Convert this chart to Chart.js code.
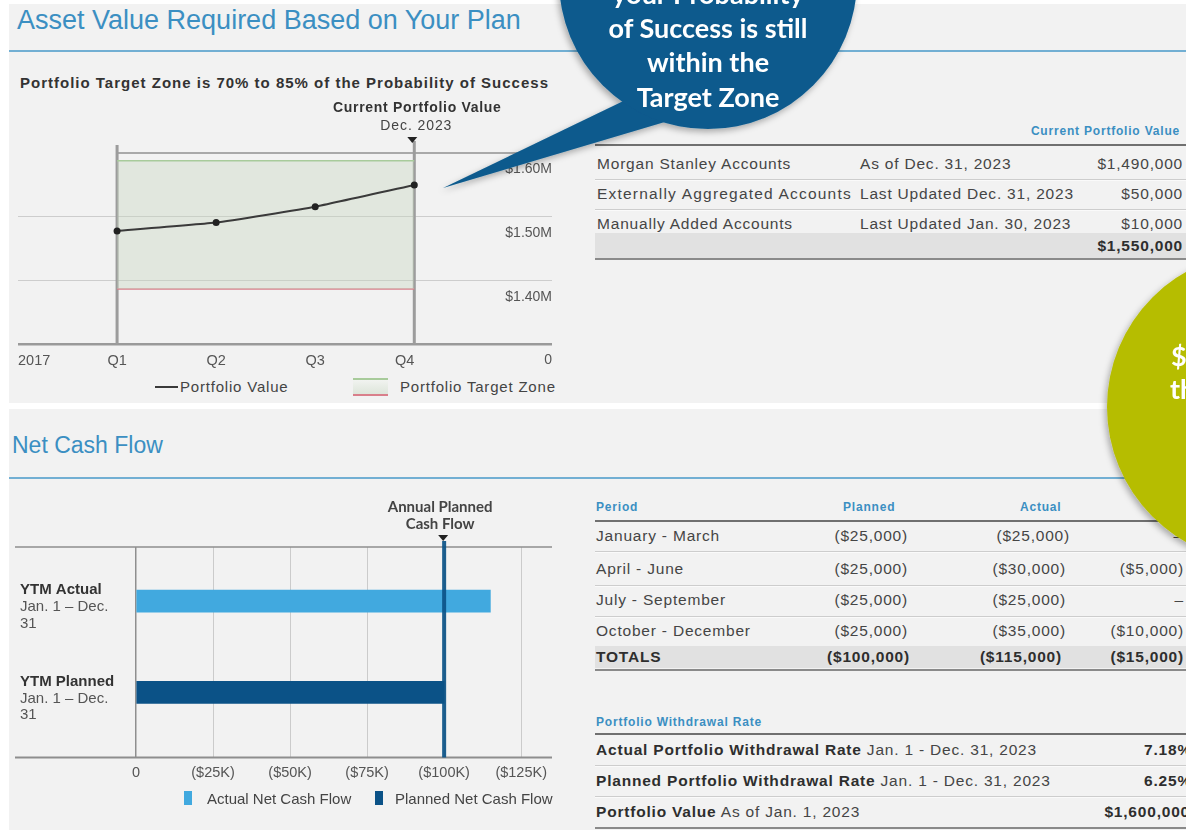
<!DOCTYPE html>
<html>
<head>
<meta charset="utf-8">
<script src="https://cdn.jsdelivr.net/npm/chart.js@4.4.1/dist/chart.umd.min.js"></script>
<style>
  body { margin: 0; width: 1186px; height: 830px; position: relative; overflow: hidden; background: #fff;
         font-family: "Liberation Sans", Arial, sans-serif; color: #444; }
  .panel { position: absolute; left: 9px; right: 0; background: #f2f2f2; }
  .abs { position: absolute; white-space: nowrap; }
  .h { color: #3b8fc2; }
  .rule { position: absolute; left: 9px; right: 0; height: 2px; background: #72afd3; }
  .t { position: absolute; white-space: nowrap; font-size: 15.5px; letter-spacing: 0.8px; line-height: 18px; color: #454545; }
  .b { font-weight: bold; color: #2e2e2e; }
  .cap { position: absolute; white-space: nowrap; font-size: 12px; letter-spacing: 0.8px; line-height: 13px; color: #3b8fc2; font-weight: bold; }
  .line { position: absolute; height: 1px; background: #cdcdcd; border-bottom: 1px solid #fafafa; }
  .border { position: absolute; height: 2px; background: #707070; }
  .totalbg { position: absolute; background: #e1e1e1; }
  canvas { position: absolute; }
  .legend { position: absolute; font-size: 15px; line-height: 18px; color: #444; white-space: nowrap; }
  .legend span { position: absolute; }
</style>
</head>
<body>
<div class="panel" style="top:4px;height:399px"></div>
<div class="panel" style="top:409px;height:421px"></div>

<!-- section 1 -->
<div class="abs h" style="left:17px;top:5px;font-size:27px;line-height:30px">Asset Value Required Based on Your Plan</div>
<div class="rule" style="top:50px"></div>
<div class="abs b" style="left:20px;top:74px;font-size:15px;letter-spacing:1px;line-height:18px;color:#333">Portfolio Target Zone is 70% to 85% of the Probability of Success</div>

<canvas id="valueChart" width="560" height="277" style="left:10px;top:95px"></canvas>
<div id="valueLegend" class="legend" style="left:0;top:378px;width:570px;height:20px"></div>

<div class="cap" style="right:6px;top:125px">Current Portfolio Value</div>
<div class="border" style="left:595px;right:0;top:144px"></div>
<div class="t" style="left:597px;top:155px">Morgan Stanley Accounts</div>
<div class="t" style="left:860px;top:155px">As of Dec. 31, 2023</div>
<div class="t" style="right:3px;top:155px">$1,490,000</div>
<div class="line" style="left:595px;right:0;top:179px"></div>
<div class="t" style="left:597px;top:185px;letter-spacing:1.2px">Externally Aggregated Accounts</div>
<div class="t" style="left:860px;top:185px">Last Updated Dec. 31, 2023</div>
<div class="t" style="right:3px;top:185px">$50,000</div>
<div class="line" style="left:595px;right:0;top:209px"></div>
<div class="t" style="left:597px;top:215px">Manually Added Accounts</div>
<div class="t" style="left:860px;top:215px">Last Updated Jan. 30, 2023</div>
<div class="t" style="right:3px;top:215px">$10,000</div>
<div class="totalbg" style="left:595px;right:0;top:233px;height:25px"></div>
<div class="t b" style="right:3px;top:237px">$1,550,000</div>
<div class="border" style="left:595px;right:0;top:258px;background:#8a8a8a"></div>

<!-- section 2 -->
<div class="abs h" style="left:12px;top:432px;font-size:23px;line-height:27px">Net Cash Flow</div>
<div class="rule" style="top:477px"></div>

<canvas id="cashChart" width="560" height="302" style="left:10px;top:490px"></canvas>
<div id="cashLegend" class="legend" style="left:0;top:790px;width:570px;height:20px"></div>

<div class="cap" style="left:596px;top:501px">Period</div>
<div class="cap" style="left:843px;top:501px">Planned</div>
<div class="cap" style="left:1020px;top:501px">Actual</div>
<div class="cap" style="left:1166px;top:501px">Change</div>
<div class="border" style="left:595px;right:0;top:520px"></div>
<div class="t" style="left:596px;top:527px">January - March</div>
<div class="t" style="right:278px;top:527px">($25,000)</div>
<div class="t" style="right:116px;top:527px">($25,000)</div>
<div class="t" style="right:3px;top:527px">–</div>
<div class="line" style="left:595px;right:0;top:551px"></div>
<div class="t" style="left:596px;top:560px">April - June</div>
<div class="t" style="right:278px;top:560px">($25,000)</div>
<div class="t" style="right:120px;top:560px">($30,000)</div>
<div class="t" style="right:2px;top:560px">($5,000)</div>
<div class="line" style="left:595px;right:0;top:585px"></div>
<div class="t" style="left:596px;top:591px">July - September</div>
<div class="t" style="right:278px;top:591px">($25,000)</div>
<div class="t" style="right:120px;top:591px">($25,000)</div>
<div class="t" style="right:2px;top:591px">–</div>
<div class="line" style="left:595px;right:0;top:616px"></div>
<div class="t" style="left:596px;top:622px">October - December</div>
<div class="t" style="right:278px;top:622px">($25,000)</div>
<div class="t" style="right:120px;top:622px">($35,000)</div>
<div class="t" style="right:2px;top:622px">($10,000)</div>
<div class="totalbg" style="left:595px;right:0;top:646px;height:22px"></div>
<div class="t b" style="left:596px;top:648px">TOTALS</div>
<div class="t b" style="right:276px;top:648px">($100,000)</div>
<div class="t b" style="right:124px;top:648px">($115,000)</div>
<div class="t b" style="right:2px;top:648px">($15,000)</div>
<div class="border" style="left:595px;right:0;top:669px;background:#8a8a8a"></div>

<div class="cap" style="left:596px;top:716px">Portfolio Withdrawal Rate</div>
<div class="border" style="left:595px;right:0;top:733px"></div>
<div class="t" style="left:596px;top:741px"><span class="b">Actual Portfolio Withdrawal Rate</span> Jan. 1 - Dec. 31, 2023</div>
<div class="t b" style="right:-6px;top:741px">7.18%</div>
<div class="line" style="left:595px;right:0;top:765px"></div>
<div class="t" style="left:596px;top:772px"><span class="b">Planned Portfolio Withdrawal Rate</span> Jan. 1 - Dec. 31, 2023</div>
<div class="t b" style="right:-6px;top:772px">6.25%</div>
<div class="line" style="left:595px;right:0;top:796px"></div>
<div class="t" style="left:596px;top:803px"><span class="b">Portfolio Value</span> As of Jan. 1, 2023</div>
<div class="t b" style="right:-4px;top:803px">$1,600,000</div>
<div class="border" style="left:595px;right:0;top:827px;background:#8a8a8a"></div>

<!-- callouts -->
<svg width="1186" height="830" style="position:absolute;left:0;top:0;pointer-events:none">
  <defs>
    <filter id="sh" x="-30%" y="-30%" width="160%" height="160%">
      <feDropShadow dx="-2" dy="3" stdDeviation="3" flood-color="#000" flood-opacity="0.3"/>
    </filter>
  </defs>
  <g filter="url(#sh)">
    <path d="M443,188 L640,93 L685,116 Z" fill="#0b5a8d"/>
    <circle cx="708" cy="-20" r="149" fill="#0b5a8d"/>
  </g>
  <g font-family="Lato, 'Open Sans', sans-serif" font-weight="700" font-size="27" fill="#fff" text-anchor="middle" dominant-baseline="central">
    <text x="708" y="-7">your Probability</text>
    <text x="708" y="27">of Success is still</text>
    <text x="708" y="61">within the</text>
    <text x="708" y="96">Target Zone</text>
  </g>
  <circle cx="1262" cy="407" r="155" fill="#b6bd00" filter="url(#sh)"/>
  <g font-family="Lato, 'Open Sans', sans-serif" font-weight="700" font-size="27" fill="#fff" dominant-baseline="central">
    <text x="1171" y="355">$15,000 more</text>
    <text x="1170" y="388">than planned</text>
  </g>
</svg>

<script>
// ---------- Asset value chart data ----------
const periodLabels = ['2017', 'Q1', 'Q2', 'Q3', 'Q4'];
const portfolioValue = [null, 1478000, 1491000, 1516000, 1550000];
const targetZoneLow = 1387000;
const targetZoneHigh = 1588000;
const zonePeriods = [1, 4];            // Q1 .. Q4
const currentPeriod = 4;               // Dec. 2023 marker
const valueTicks = [1300000, 1400000, 1500000, 1600000];
const valueTickLabels = ['0', '$1.40M', '$1.50M', '$1.60M'];
const periodAxisMax = 5.39;

// ---------- Net cash flow chart data ----------
const cashFlowCategories = ['YTM Actual', 'YTM Planned'];
const cashFlowSubLabels = ['Jan. 1 – Dec.', '31'];
const actualNetCashFlow = [115000, null];
const plannedNetCashFlow = [null, 100000];
const annualPlannedCashFlow = 100000;
const cashFlowTicks = [0, 25000, 50000, 75000, 100000, 125000];
const cashFlowAxisMax = 135000;

const FONT = '"Liberation Sans", Arial, sans-serif';

function stroke(ctx, x1, y1, x2, y2) {
    ctx.beginPath();
    ctx.moveTo(x1, y1);
    ctx.lineTo(x2, y2);
    ctx.stroke();
}

function downTriangle(ctx, x, y, color) {
    ctx.fillStyle = color;
    ctx.beginPath();
    ctx.moveTo(x - 5, y - 3);
    ctx.lineTo(x + 5, y - 3);
    ctx.lineTo(x, y + 3);
    ctx.closePath();
    ctx.fill();
}

// vertical markers, top border and current value note
const valueDecor = {
    id: 'valueDecor',
    beforeDatasetsDraw(chart) {
        const { ctx, chartArea, scales: { x, y } } = chart;
        const q1 = x.getPixelForValue(zonePeriods[0]);
        const q4 = x.getPixelForValue(currentPeriod);
        const top = y.getPixelForValue(valueTicks[valueTicks.length - 1]);
        ctx.save();
        ctx.strokeStyle = '#a9a9a9';
        ctx.lineWidth = 2;
        stroke(ctx, q1, top, chartArea.right, top);
        ctx.strokeStyle = '#9c9c9c';
        ctx.lineWidth = 3;
        stroke(ctx, q1, top - 8, q1, chartArea.bottom);
        stroke(ctx, q4, top - 12, q4, chartArea.bottom);
        ctx.restore();
    },
    afterDraw(chart) {
        const { ctx, chartArea, scales: { x } } = chart;
        const q4 = x.getPixelForValue(currentPeriod);
        const top = chartArea.top;
        ctx.save();
        downTriangle(ctx, q4 - 2, top - 13, '#222');
        ctx.textAlign = 'center';
        ctx.textBaseline = 'middle';
        ctx.fillStyle = '#333';
        ctx.font = 'bold 14px ' + FONT;
        ctx.letterSpacing = '0.7px';
        ctx.fillText('Current Portfolio Value', q4 + 3, top - 45);
        ctx.fillStyle = '#444';
        ctx.font = '14px ' + FONT;
        ctx.letterSpacing = '0.9px';
        ctx.fillText('Dec. 2023', q4 + 2, top - 27);
        ctx.restore();
    }
};

const valueChart = new Chart(document.getElementById('valueChart'), {
    type: 'line',
    data: {
        datasets: [
            {
                label: 'Portfolio Value',
                data: portfolioValue.map((v, i) => ({ x: i, y: v })).filter(p => p.y !== null),
                borderColor: '#3a3a3a',
                borderWidth: 2,
                pointRadius: 3.5,
                pointBackgroundColor: '#222',
                pointBorderWidth: 0,
                tension: 0.12,
                fill: false,
                order: 0
            },
            {
                label: 'Portfolio Target Zone',
                data: zonePeriods.map(p => ({ x: p, y: targetZoneHigh })),
                borderColor: '#a8cb9b',
                borderWidth: 1.5,
                pointRadius: 0,
                fill: '+1',
                backgroundColor: 'rgba(196,214,190,0.38)',
                order: 1
            },
            {
                label: 'Target Zone Low',
                data: zonePeriods.map(p => ({ x: p, y: targetZoneLow })),
                borderColor: '#d97f8b',
                borderWidth: 1.5,
                pointRadius: 0,
                fill: false,
                order: 2
            }
        ]
    },
    options: {
        responsive: false,
        animation: false,
        layout: { padding: { left: 8, right: 18, top: 58, bottom: 2 } },
        plugins: { legend: { display: false }, tooltip: { enabled: false } },
        scales: {
            x: {
                type: 'linear',
                bounds: 'data',
                min: 0,
                max: periodAxisMax,
                afterBuildTicks: (axis) => { axis.ticks = periodLabels.map((_, i) => ({ value: i })); },
                grid: { display: false },
                border: { display: false },
                ticks: {
                    align: 'inner',
                    padding: 0,
                    maxRotation: 0,
                    autoSkip: false,
                    color: '#555',
                    font: { size: 14.5, family: FONT },
                    callback: (v) => periodLabels[v] ?? ''
                }
            },
            y: {
                position: 'right',
                bounds: 'data',
                min: valueTicks[0],
                max: valueTicks[valueTicks.length - 1],
                afterBuildTicks: (axis) => { axis.ticks = valueTicks.map(v => ({ value: v })); },
                grid: {
                    drawTicks: false,
                    color: (c) => {
                        const v = c.tick && c.tick.value;
                        if (v === valueTicks[valueTicks.length - 1]) return 'rgba(0,0,0,0)';
                        return v === valueTicks[0] ? '#9a9a9a' : '#cdcdcd';
                    },
                    lineWidth: (c) => (c.tick && c.tick.value === valueTicks[0]) ? 2.5 : 1
                },
                border: { display: false },
                ticks: {
                    mirror: true,
                    padding: 0,
                    labelOffset: 16,
                    color: '#555',
                    font: { size: 14, family: FONT },
                    callback: (v) => valueTickLabels[valueTicks.indexOf(v)]
                }
            }
        }
    },
    plugins: [valueDecor]
});

// legend for the value chart
(function () {
    const ds = valueChart.data.datasets;
    const el = document.getElementById('valueLegend');
    el.innerHTML =
        '<span style="left:155px;top:8px;width:23px;height:2px;background:' + ds[0].borderColor + '"></span>' +
        '<span style="left:180px;top:0;letter-spacing:0.8px">' + ds[0].label + '</span>' +
        '<span style="left:353px;top:0;width:35px;height:14px;border-top:2px solid ' + ds[1].borderColor +
        ';border-bottom:2px solid ' + ds[2].borderColor + ';background:linear-gradient(#f1f3f0,#dde5da)"></span>' +
        '<span style="left:400px;top:0;letter-spacing:0.8px">' + ds[1].label + '</span>';
})();

// ---------- Net cash flow chart ----------
const cashDecor = {
    id: 'cashDecor',
    beforeDatasetsDraw(chart) {
        const { ctx, chartArea: { top, bottom, right } } = chart;
        ctx.save();
        ctx.strokeStyle = '#8e8e8e';
        ctx.lineWidth = 1.5;
        stroke(ctx, 5, top, right, top);
        ctx.lineWidth = 2;
        stroke(ctx, 5, bottom, right, bottom);
        ctx.restore();
    },
    afterDatasetsDraw(chart) {
        const { ctx, chartArea: { top, bottom }, scales: { x } } = chart;
        const px = x.getPixelForValue(annualPlannedCashFlow);
        ctx.save();
        ctx.strokeStyle = 'rgba(11,82,135,0.92)';
        ctx.lineWidth = 4;
        stroke(ctx, px, top - 6, px, bottom);
        downTriangle(ctx, px - 1, top - 9, '#222');
        ctx.textAlign = 'center';
        ctx.textBaseline = 'middle';
        ctx.fillStyle = '#444';
        ctx.font = 'bold 15px Lato, ' + FONT;
        ctx.fillText('Annual Planned', px - 4, top - 40);
        ctx.fillText('Cash Flow', px - 4, top - 23);
        ctx.restore();
    },
    afterDraw(chart) {
        const { ctx, scales: { y } } = chart;
        ctx.save();
        ctx.textAlign = 'left';
        ctx.textBaseline = 'middle';
        cashFlowCategories.forEach((label, i) => {
            const py = y.getPixelForValue(i);
            ctx.fillStyle = '#333';
            ctx.font = 'bold 15px ' + FONT;
            ctx.fillText(label, 10, py - 11);
            ctx.fillStyle = '#555';
            ctx.font = '15px ' + FONT;
            cashFlowSubLabels.forEach((line, j) => ctx.fillText(line, 10, py + 6 + j * 16.5));
        });
        ctx.restore();
    }
};

const cashChart = new Chart(document.getElementById('cashChart'), {
    type: 'bar',
    data: {
        datasets: [
            {
                label: 'Actual Net Cash Flow',
                data: actualNetCashFlow.map((v, i) => ({ x: v, y: i })).filter(p => p.x !== null),
                backgroundColor: '#41a9df',
                grouped: false,
                barThickness: 22
            },
            {
                label: 'Planned Net Cash Flow',
                data: plannedNetCashFlow.map((v, i) => ({ x: v, y: i })).filter(p => p.x !== null),
                backgroundColor: '#0b5287',
                grouped: false,
                barThickness: 22
            }
        ]
    },
    options: {
        indexAxis: 'y',
        responsive: false,
        animation: false,
        layout: { padding: { left: 0, right: 18, top: 57, bottom: 3 } },
        plugins: { legend: { display: false }, tooltip: { enabled: false } },
        scales: {
            x: {
                type: 'linear',
                bounds: 'data',
                min: 0,
                max: cashFlowAxisMax,
                afterBuildTicks: (axis) => { axis.ticks = cashFlowTicks.map(v => ({ value: v })); },
                grid: {
                    drawTicks: false,
                    color: (c) => (c.tick && c.tick.value === 0) ? '#8f8f8f' : '#cbcbcb',
                    lineWidth: (c) => (c.tick && c.tick.value === 0) ? 1.5 : 1
                },
                border: { display: false },
                ticks: {
                    padding: 7,
                    maxRotation: 0,
                    autoSkip: false,
                    color: '#555',
                    font: { size: 14.5, family: FONT },
                    callback: (v) => v === 0 ? '0' : '($' + (v / 1000) + 'K)'
                }
            },
            y: {
                type: 'linear',
                bounds: 'data',
                offset: false,
                reverse: true,
                min: -0.593,
                max: 1.714,
                afterBuildTicks: (axis) => { axis.ticks = cashFlowCategories.map((_, i) => ({ value: i })); },
                grid: { display: false, offset: false },
                border: { display: false },
                ticks: { display: false },
                afterFit: (scale) => { scale.width = 126; }
            }
        }
    },
    plugins: [cashDecor]
});

(function () {
    const ds = cashChart.data.datasets;
    const el = document.getElementById('cashLegend');
    el.innerHTML =
        '<span style="left:184px;top:1px;width:8px;height:14px;background:' + ds[0].backgroundColor + '"></span>' +
        '<span style="left:207px;top:0">' + ds[0].label + '</span>' +
        '<span style="left:375px;top:1px;width:8px;height:14px;background:' + ds[1].backgroundColor + '"></span>' +
        '<span style="left:395px;top:0">' + ds[1].label + '</span>';
})();
</script>
</body>
</html>
